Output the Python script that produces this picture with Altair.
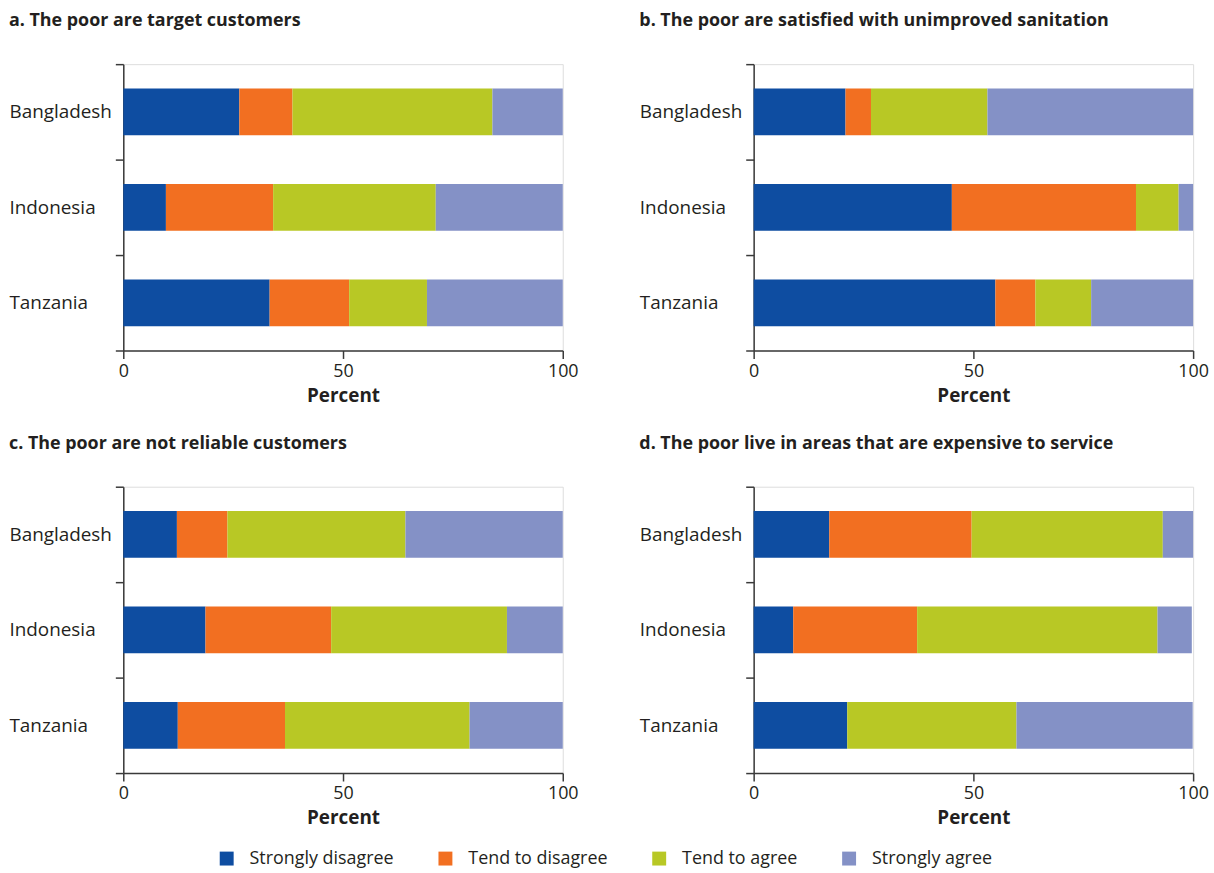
import altair as alt
import pandas as pd

countries = ["Bangladesh", "Indonesia", "Tanzania"]
categories = ["Strongly disagree", "Tend to disagree", "Tend to agree", "Strongly agree"]
colors = ["#0E4DA1", "#F26F21", "#B8C825", "#8491C6"]

titles = [
    "a.  The poor are target customers",
    "b. The poor are satisfied with unimproved sanitation",
    "c. The poor are not reliable customers",
    "d. The poor live in areas that are expensive to service",
]

# values per country (Bangladesh, Indonesia, Tanzania), percent
a_strongly_disagree = [26.4, 9.7, 33.3]
a_tend_disagree = [12.1, 24.4, 18.1]
a_tend_agree = [45.5, 37.0, 17.7]
a_strongly_agree = [16.0, 28.9, 30.9]

b_strongly_disagree = [20.9, 45.1, 55.0]
b_tend_disagree = [5.8, 41.9, 9.1]
b_tend_agree = [26.5, 9.7, 12.7]
b_strongly_agree = [46.8, 3.3, 23.2]

c_strongly_disagree = [12.2, 18.7, 12.4]
c_tend_disagree = [11.5, 28.6, 24.4]
c_tend_agree = [40.5, 40.0, 42.0]
c_strongly_agree = [35.8, 12.7, 21.2]

d_strongly_disagree = [17.2, 9.0, 21.3]
d_tend_disagree = [32.4, 28.2, 0.0]
d_tend_agree = [43.5, 54.7, 38.5]
d_strongly_agree = [6.9, 7.8, 40.1]

panels_series = [
    [a_strongly_disagree, a_tend_disagree, a_tend_agree, a_strongly_agree],
    [b_strongly_disagree, b_tend_disagree, b_tend_agree, b_strongly_agree],
    [c_strongly_disagree, c_tend_disagree, c_tend_agree, c_strongly_agree],
    [d_strongly_disagree, d_tend_disagree, d_tend_agree, d_strongly_agree],
]

FONT = "Open Sans"
AXIS_COLOR = "#3a3a3a"
TEXT_COLOR = "#231F20"


def panel(title, series):
    rows = []
    for ci, cat in enumerate(categories):
        for k, country in enumerate(countries):
            rows.append({"Country": country, "Response": cat, "Order": ci,
                         "Percent": series[ci][k]})
    df = pd.DataFrame(rows)
    return (
        alt.Chart(
            df,
            title=alt.TitleParams(
                title, anchor="start", frame="bounds", fontSize=18,
                font=FONT, fontWeight="bold", color=TEXT_COLOR, offset=25,
            ),
        )
        .mark_bar(height=alt.RelativeBandSize(0.49))
        .encode(
            y=alt.Y(
                "Country:N", sort=countries,
                scale=alt.Scale(paddingInner=0, paddingOuter=0),
                axis=alt.Axis(
                    title=None, tickBand="extent", labelAlign="left",
                    labelPadding=107, tickSize=8, labelFontSize=19,
                    labelFont=FONT, labelColor=TEXT_COLOR,
                    domainColor=AXIS_COLOR, domainWidth=1.5,
                    tickColor=AXIS_COLOR, tickWidth=1.5,
                ),
            ),
            x=alt.X(
                "Percent:Q", stack="zero",
                scale=alt.Scale(domain=[0, 100], nice=False),
                axis=alt.Axis(
                    values=[0, 50, 100], title="Percent", grid=False,
                    labelFlush=False,
                    tickSize=8, labelPadding=4, labelFontSize=18,
                    labelFont=FONT, labelColor=TEXT_COLOR,
                    titleFont=FONT, titleFontSize=19, titleFontWeight="bold",
                    titleColor=TEXT_COLOR, titlePadding=6,
                    domainColor=AXIS_COLOR, domainWidth=1.5,
                    tickColor=AXIS_COLOR, tickWidth=1.5,
                ),
            ),
            color=alt.Color(
                "Response:N",
                scale=alt.Scale(domain=categories, range=colors),
                legend=alt.Legend(
                    title=None, orient="none", legendX=95, legendY=790,
                    direction="horizontal", columns=4, columnPadding=42,
                    symbolType="square", symbolSize=196, symbolStrokeWidth=0,
                    labelFontSize=18, labelFont=FONT, labelColor=TEXT_COLOR,
                    labelOffset=14, padding=0,
                ),
            ),
            order=alt.Order("Order:Q"),
        )
        .properties(width=442, height=288)
    )


charts = [panel(t, s) for t, s in zip(titles, panels_series)]

chart = (
    alt.concat(*charts, columns=2, spacing={"row": 137, "column": 192}, bounds="flush")
    .properties(padding={"left": 8, "top": 9, "right": 5, "bottom": 5})
    .configure_view(stroke=None)
    .configure(background="white")
)

chart.save("out.html", embed_options={"renderer": "svg", "actions": False})
